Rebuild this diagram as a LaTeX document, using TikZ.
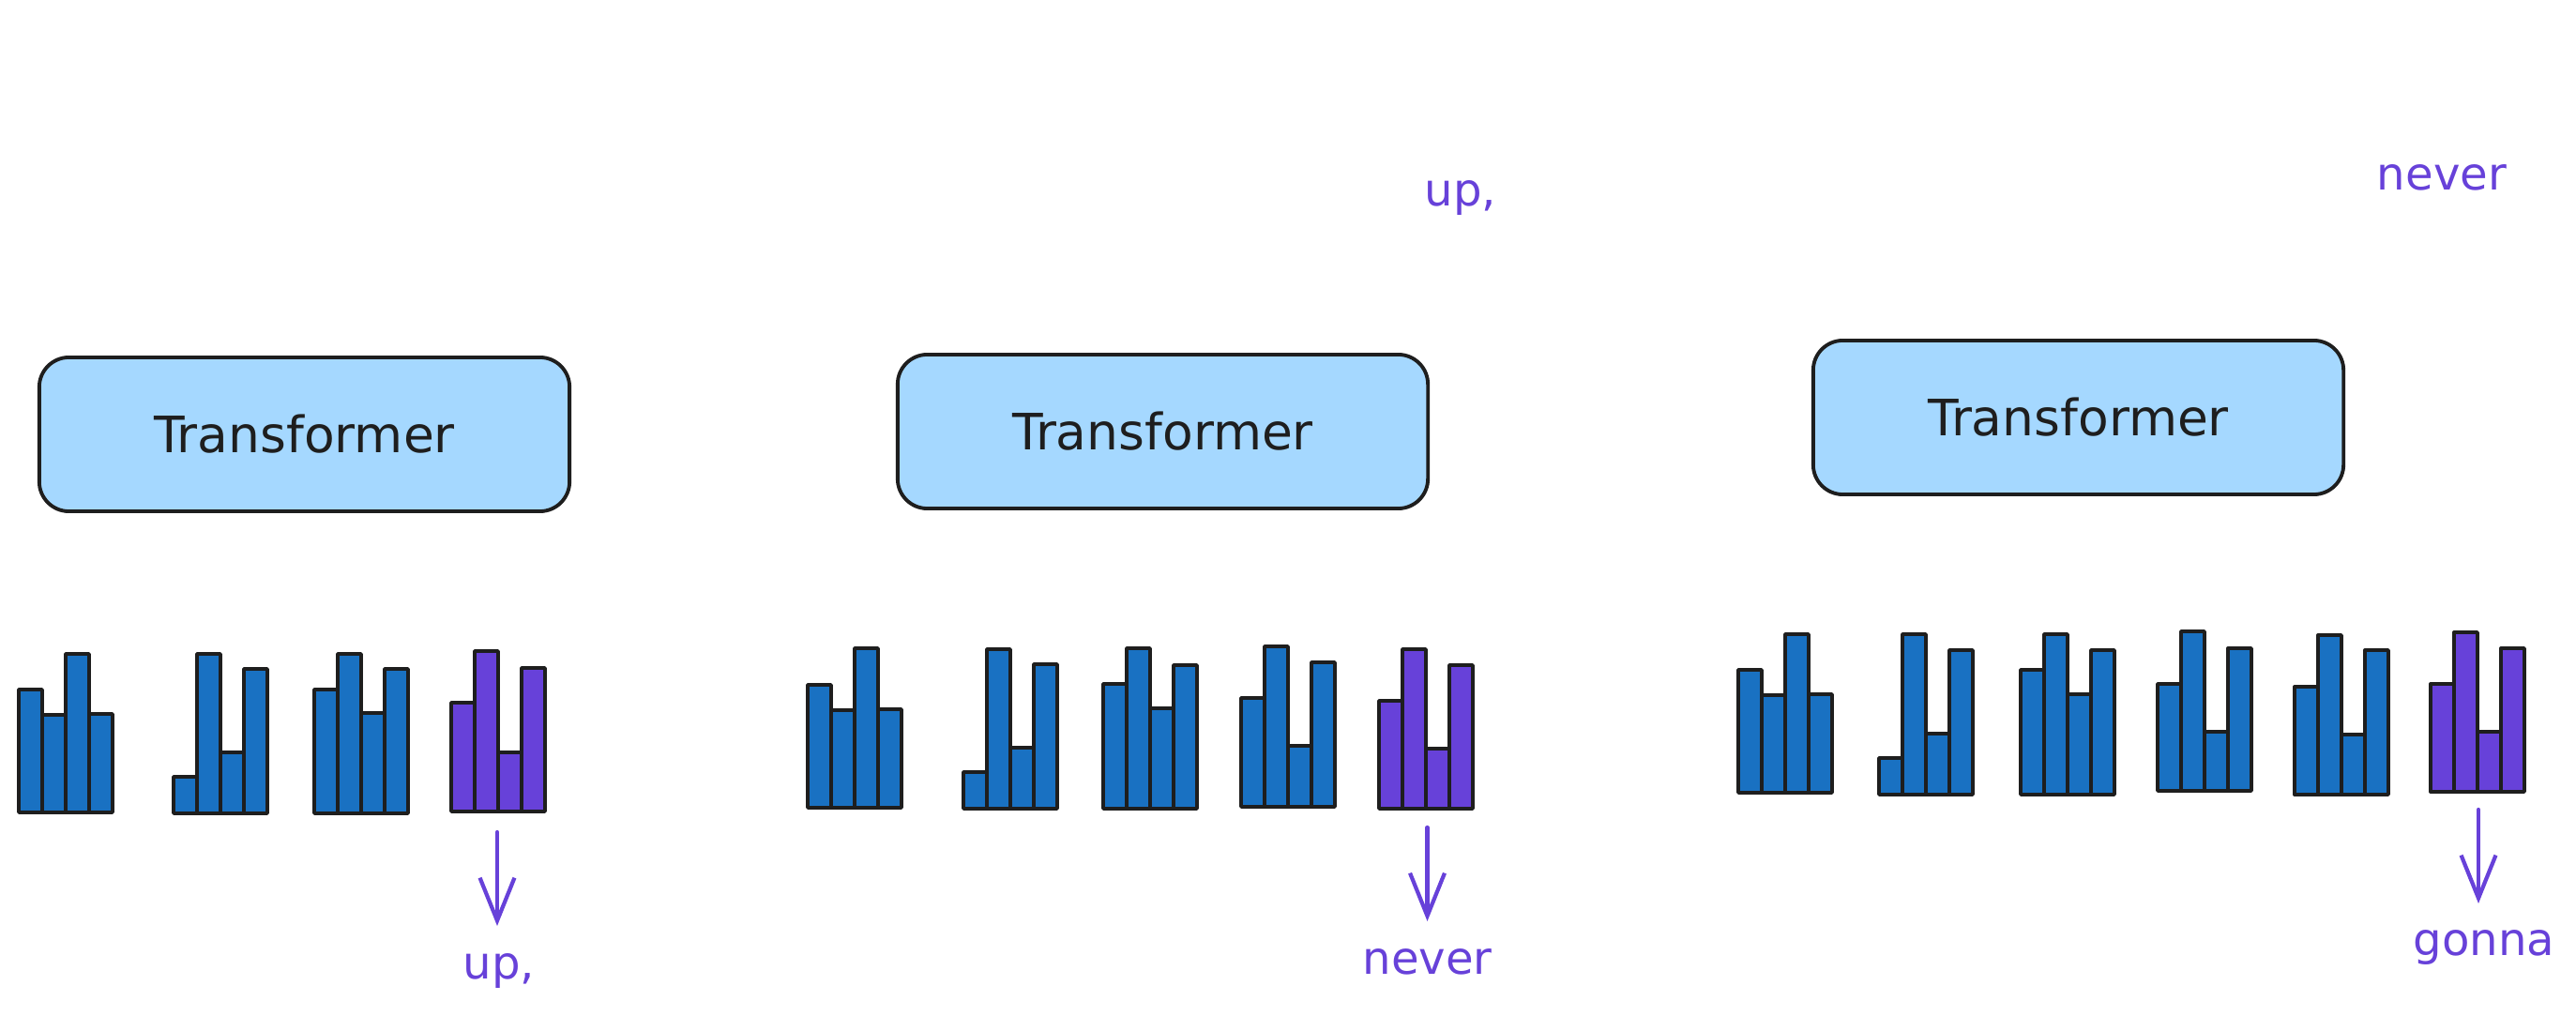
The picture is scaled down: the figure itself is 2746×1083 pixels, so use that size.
\documentclass[tikz,border=0pt]{standalone}
\usepackage{fontspec}
\setmainfont{DejaVu Sans}
\usetikzlibrary{arrows.meta}
\definecolor{boxfill}{HTML}{A5D8FF}
\definecolor{ink}{HTML}{1E1E1E}
\definecolor{barblue}{HTML}{1971C2}
\definecolor{violet}{HTML}{6741D9}
\tikzset{
  tbox/.style={draw=ink, fill=boxfill, line width=1.1pt, rounded corners=9pt,
    minimum width=5.65cm, minimum height=1.64cm, inner sep=0pt,
    font=\fontsize{15.2pt}{18pt}\selectfont, text=ink},
  bluebar/.style={draw=ink, fill=barblue, line width=1pt, line join=round},
  violetbar/.style={draw=ink, fill=violet, line width=1pt, line join=round},
  outlabel/.style={text=violet, anchor=base, inner sep=0pt,
    font=\fontsize{13.7pt}{16pt}\selectfont},
  outarrow/.style={draw=violet, line width=1.2pt, line cap=round,
    -{Straight Barb[length=13pt, width=10.5pt, line width=1.2pt]}}
}
\newcommand{\bargroup}[4]{%
  \foreach \t [count=\i from 0] in {#4} {%
    \draw[#1] ({#2+25*\i},\t) rectangle ({#2+25*\i+25},#3);
  }%
}
\begin{document}
\begin{tikzpicture}[x=0.01cm, y=-0.01cm]
\useasboundingbox (0,0) rectangle (2746,1083);

% Transformer boxes
\node[tbox] (tf1) at (324.5,463) {Transformer};
\node[tbox] (tf2) at (1239.5,460) {Transformer};
\node[tbox] (tf3) at (2215.5,445) {Transformer};

% Panel 1 bars
\bargroup{bluebar}{20}{866}{735,762,697,761}
\bargroup{bluebar}{185}{867}{828,697,802,713}
\bargroup{bluebar}{335}{867}{735,697,760,713}
\bargroup{violetbar}{481}{865}{749,694,802,712}

% Panel 2 bars
\bargroup{bluebar}{861}{861}{730,757,691,756}
\bargroup{bluebar}{1027}{862}{823,692,797,708}
\bargroup{bluebar}{1176}{862}{729,691,755,709}
\bargroup{bluebar}{1323}{860}{744,689,795,706}
\bargroup{violetbar}{1470}{862}{747,692,798,709}

% Panel 3 bars
\bargroup{bluebar}{1853}{845}{714,741,676,740}
\bargroup{bluebar}{2003}{847}{808,676,782,693}
\bargroup{bluebar}{2154}{847}{714,676,740,693}
\bargroup{bluebar}{2300}{843}{729,673,780,691}
\bargroup{bluebar}{2446}{847}{732,677,783,693}
\bargroup{violetbar}{2591}{844}{729,674,780,691}

% Output arrows
\coordinate (a1s) at (530,887);  \coordinate (a1e) at (530,987);
\coordinate (a2s) at (1521.5,882); \coordinate (a2e) at (1521.5,982);
\coordinate (a3s) at (2642,863); \coordinate (a3e) at (2642,963);
\draw[outarrow] (a1s) -- (a1e);
\draw[outarrow] (a2s) -- (a2e);
\draw[outarrow] (a3s) -- (a3e);

% Output labels
\node[outlabel] (o1) at (532,1043) {up,};
\node[outlabel] (o2) at (1521.5,1038) {never};
\node[outlabel] (o3) at (2648,1018) {gonna};

% Top labels
\node[outlabel] (t1) at (1557,220) {up,};
\node[outlabel] (t2) at (2603,203) {never};
\end{tikzpicture}
\end{document}
